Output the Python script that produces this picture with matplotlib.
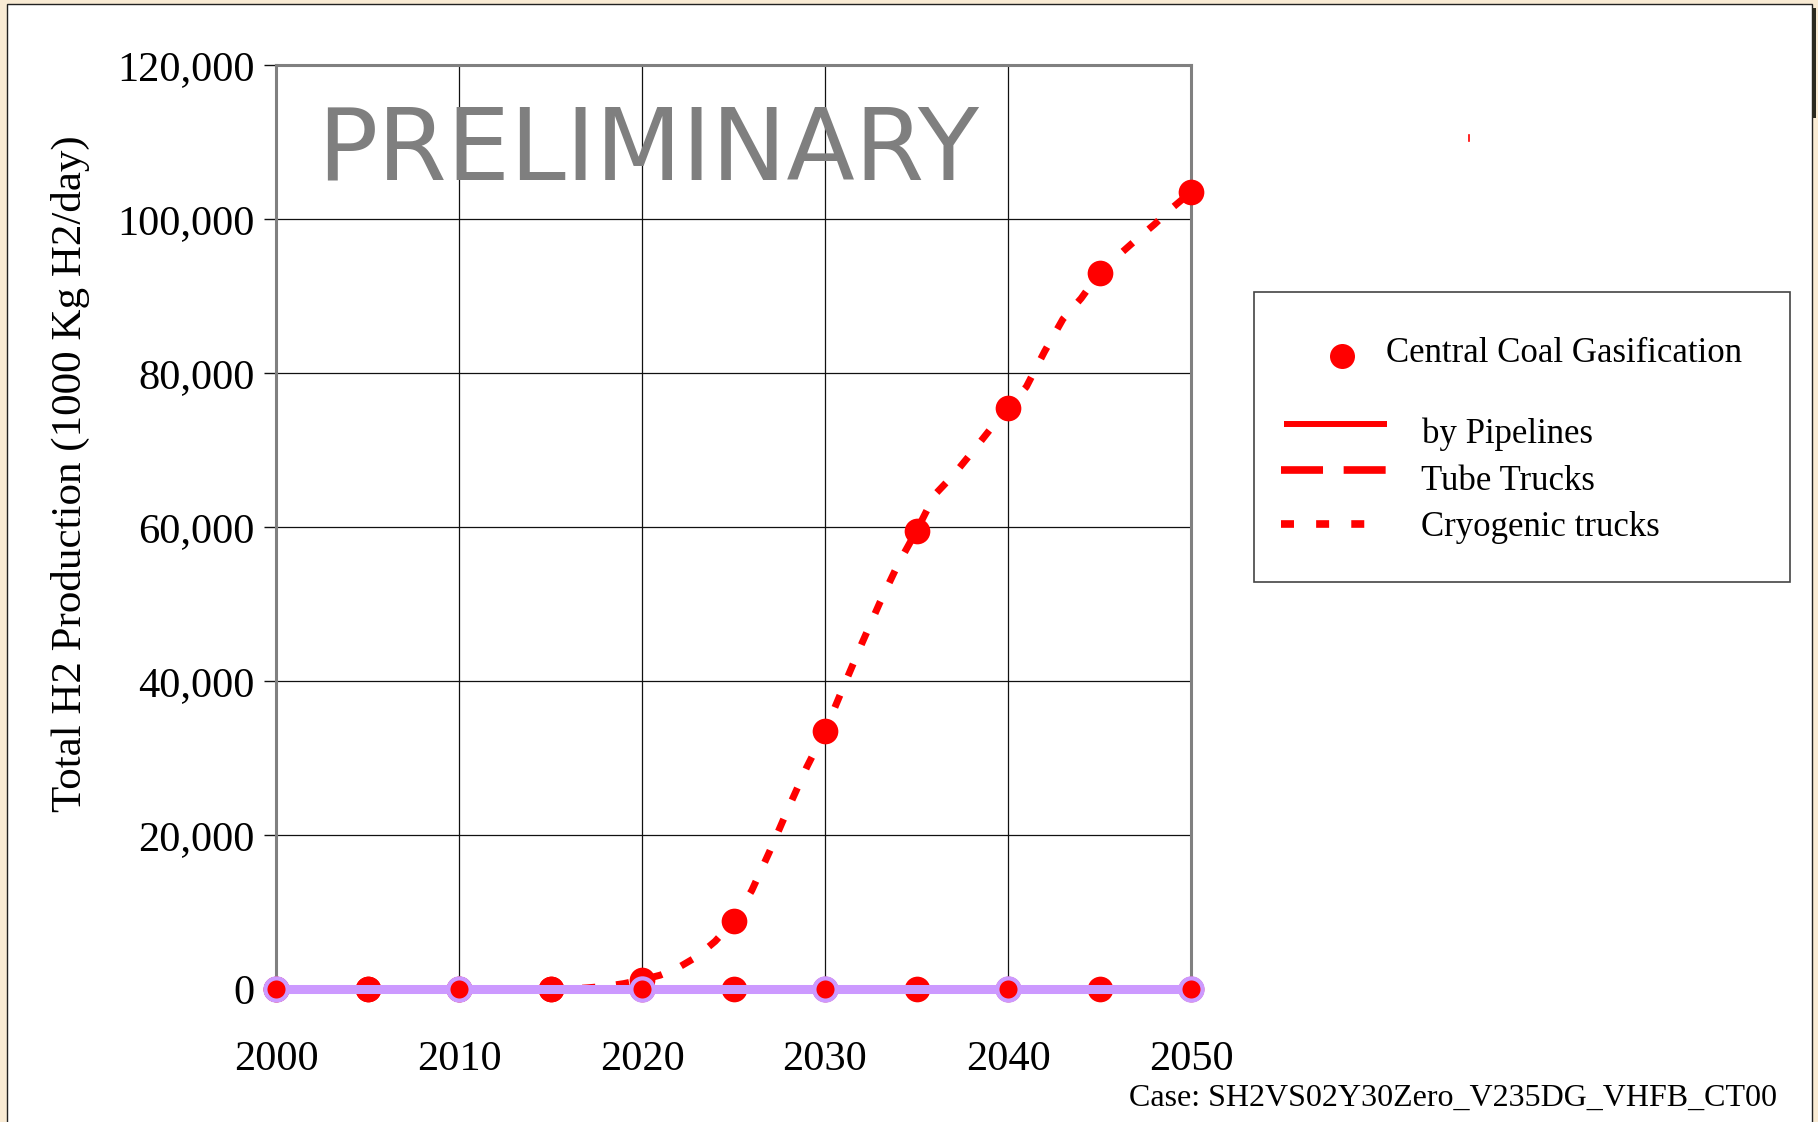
import matplotlib
matplotlib.use("Agg")
import matplotlib.pyplot as plt
from matplotlib.lines import Line2D
from matplotlib.patches import Rectangle
from matplotlib.ticker import FuncFormatter

# ---- data -------------------------------------------------------------
years5 = [2000, 2005, 2010, 2015, 2020, 2025, 2030, 2035, 2040, 2045, 2050]
coal_gasification = [0, 0, 0, 0, 1200, 8800, 33500, 59500, 75500, 93000, 103500]

years_annual = list(range(2000, 2051))
cryogenic_trucks = [0] * 17 + [
    150, 350, 700, 1200,                     # 2017-2020
    1800, 2800, 4200, 6200, 8800,            # 2021-2025
    12800, 18000, 23500, 28800, 33500,       # 2026-2030
    39200, 44800, 50200, 55200, 59500,       # 2031-2035
    64200, 66700, 69600, 72600, 75500,       # 2036-2040
    78200, 82800, 87000, 89700, 93000,       # 2041-2045
    95200, 97300, 99300, 101500, 103500,     # 2046-2050
]
pipelines = [0] * len(years5)
tube_trucks = [250] * len(years5)
other_pathways = [0] * len(years5)

y_ticks = [0, 20000, 40000, 60000, 80000, 100000, 120000]
x_ticks = [2000, 2010, 2020, 2030, 2040, 2050]
legend_labels = ["Central Coal Gasification", "by Pipelines", "Tube Trucks", "Cryogenic trucks"]

RED = "#ff0000"
LAVENDER = "#cc99ff"
SERIF = ["Liberation Serif", "DejaVu Serif"]

W, H = 1818, 1122


def px(x, y):
    """Pixel position (from top-left) to figure fraction."""
    return x / W, 1 - y / H


fig = plt.figure(figsize=(W / 100, H / 100), dpi=100)
fig.patch.set_facecolor("#f9ebd4")

# white page with a thin dark outline and a shadow strip on the right
x0, y0 = px(7, 4)
fig.patches.append(Rectangle((x0, -0.01), (1812 - 7) / W, y0 + 0.01,
                             transform=fig.transFigure, facecolor="white",
                             edgecolor="#222222", linewidth=1.0, zorder=-2))
sx, sy = px(1812, 118)
fig.patches.append(Rectangle((sx, sy), 4 / W, (118 - 8) / H,
                             transform=fig.transFigure, facecolor="#2b2a20",
                             edgecolor="none", zorder=-2))

# ---- axes ---------------------------------------------------------------
left, bottom = px(276, 989)
ax = fig.add_axes([left, bottom, (1191 - 276) / W, (989 - 65) / H])
ax.set_zorder(5)
ax.set_facecolor("white")
ax.set_xlim(2000, 2050)
ax.set_ylim(0, 120000)
ax.set_xticks(x_ticks)
ax.set_yticks(y_ticks)
ax.yaxis.set_major_formatter(FuncFormatter(lambda v, _: f"{v:,.0f}"))
ax.grid(True, color="#111111", linewidth=0.9)
ax.set_axisbelow(True)
for side in ("top", "left", "right"):
    ax.spines[side].set_color("#808080")
    ax.spines[side].set_linewidth(2.2)
ax.spines["bottom"].set_visible(False)
ax.tick_params(axis="x", length=0, pad=37, labelsize=30.5)
ax.tick_params(axis="y", length=8.5, width=1.0, color="#111111", pad=7, labelsize=30.5)
for lab in ax.get_xticklabels() + ax.get_yticklabels():
    lab.set_family(SERIF)

# cryogenic truck delivery curve
ax.plot(years_annual, cryogenic_trucks, color=RED, linewidth=5,
        dashes=(1.9, 3.0), solid_capstyle="butt", dash_capstyle="butt", zorder=3)

# pipeline and tube truck lines near zero
ax.plot(years5, tube_trucks, color=RED, linewidth=3.5, dashes=(5.5, 2.7),
        zorder=3, clip_on=False)
ax.plot(years5, pipelines, color=RED, linewidth=3.6, marker="o", markersize=18.5,
        markerfacecolor=RED, markeredgewidth=0, zorder=4, clip_on=False)

# coal gasification production points
ax.plot(years5, coal_gasification, linestyle="none", marker="o", markersize=18.5,
        markerfacecolor=RED, markeredgewidth=0, zorder=5, clip_on=False)

# other pathways, lavender band along zero
ax.plot(years5, other_pathways, color=LAVENDER, linewidth=6.5, marker="o",
        markersize=16, markerfacecolor=RED, markeredgecolor=LAVENDER,
        markeredgewidth=3, markevery=slice(0, None, 2), zorder=6, clip_on=False)

# watermark
fig.text(*px(648, 152), "PRELIMINARY", color="#7f7f7f", fontsize=72,
         family="DejaVu Sans", ha="center", va="center", zorder=10)

# y-axis title
fig.text(*px(70, 474), "Total H2 Production (1000 Kg H2/day)", rotation=90,
         ha="center", va="center", fontsize=31, family=SERIF)

# case caption
fig.text(*px(1777, 1098), "Case: SH2VS02Y30Zero_V235DG_VHFB_CT00",
         ha="right", va="center", fontsize=23, family=SERIF)

# small red tick at the top right
rx, ry = px(1469, 141)
fig.lines.append(Line2D([rx, rx], [ry, ry + 6 / H], transform=fig.transFigure,
                        color=RED, linewidth=1.2))

# ---- legend box -----------------------------------------------------------
lx, ly = px(1254, 582)
fig.patches.append(Rectangle((lx, ly), (1790 - 1254) / W, (582 - 292) / H,
                             transform=fig.transFigure, facecolor="white",
                             edgecolor="#444444", linewidth=1.2, zorder=1))

mx, my = px(1342, 356)
fig.lines.append(Line2D([mx], [my], transform=fig.transFigure, marker="o",
                        markersize=18, markerfacecolor=RED, markeredgewidth=0,
                        linestyle="none", zorder=3))
fig.text(*px(1386, 354), legend_labels[0], ha="left", va="center",
         fontsize=25, family=SERIF, zorder=3)

a, b = px(1284, 424)
c, _ = px(1387, 424)
fig.lines.append(Line2D([a, c], [b, b], transform=fig.transFigure,
                        color=RED, linewidth=4.3, solid_capstyle="butt", zorder=3))
fig.text(*px(1422, 434), legend_labels[1], ha="left", va="center",
         fontsize=25, family=SERIF, zorder=3)

a, b = px(1281, 470)
c, _ = px(1392, 470)
fig.lines.append(Line2D([a, c], [b, b], transform=fig.transFigure,
                        color=RED, linewidth=5.5, dashes=(5.5, 2.7),
                        dash_capstyle="butt", zorder=3))
fig.text(*px(1421, 481), legend_labels[2], ha="left", va="center",
         fontsize=25, family=SERIF, zorder=3)

a, b = px(1281, 524)
c, _ = px(1372, 524)
fig.lines.append(Line2D([a, c], [b, b], transform=fig.transFigure,
                        color=RED, linewidth=5.5, dashes=(1.7, 2.9),
                        dash_capstyle="butt", zorder=3))
fig.text(*px(1421, 527), legend_labels[3], ha="left", va="center",
         fontsize=25, family=SERIF, zorder=3)

fig.savefig("out.png", dpi=100, facecolor=fig.get_facecolor())
